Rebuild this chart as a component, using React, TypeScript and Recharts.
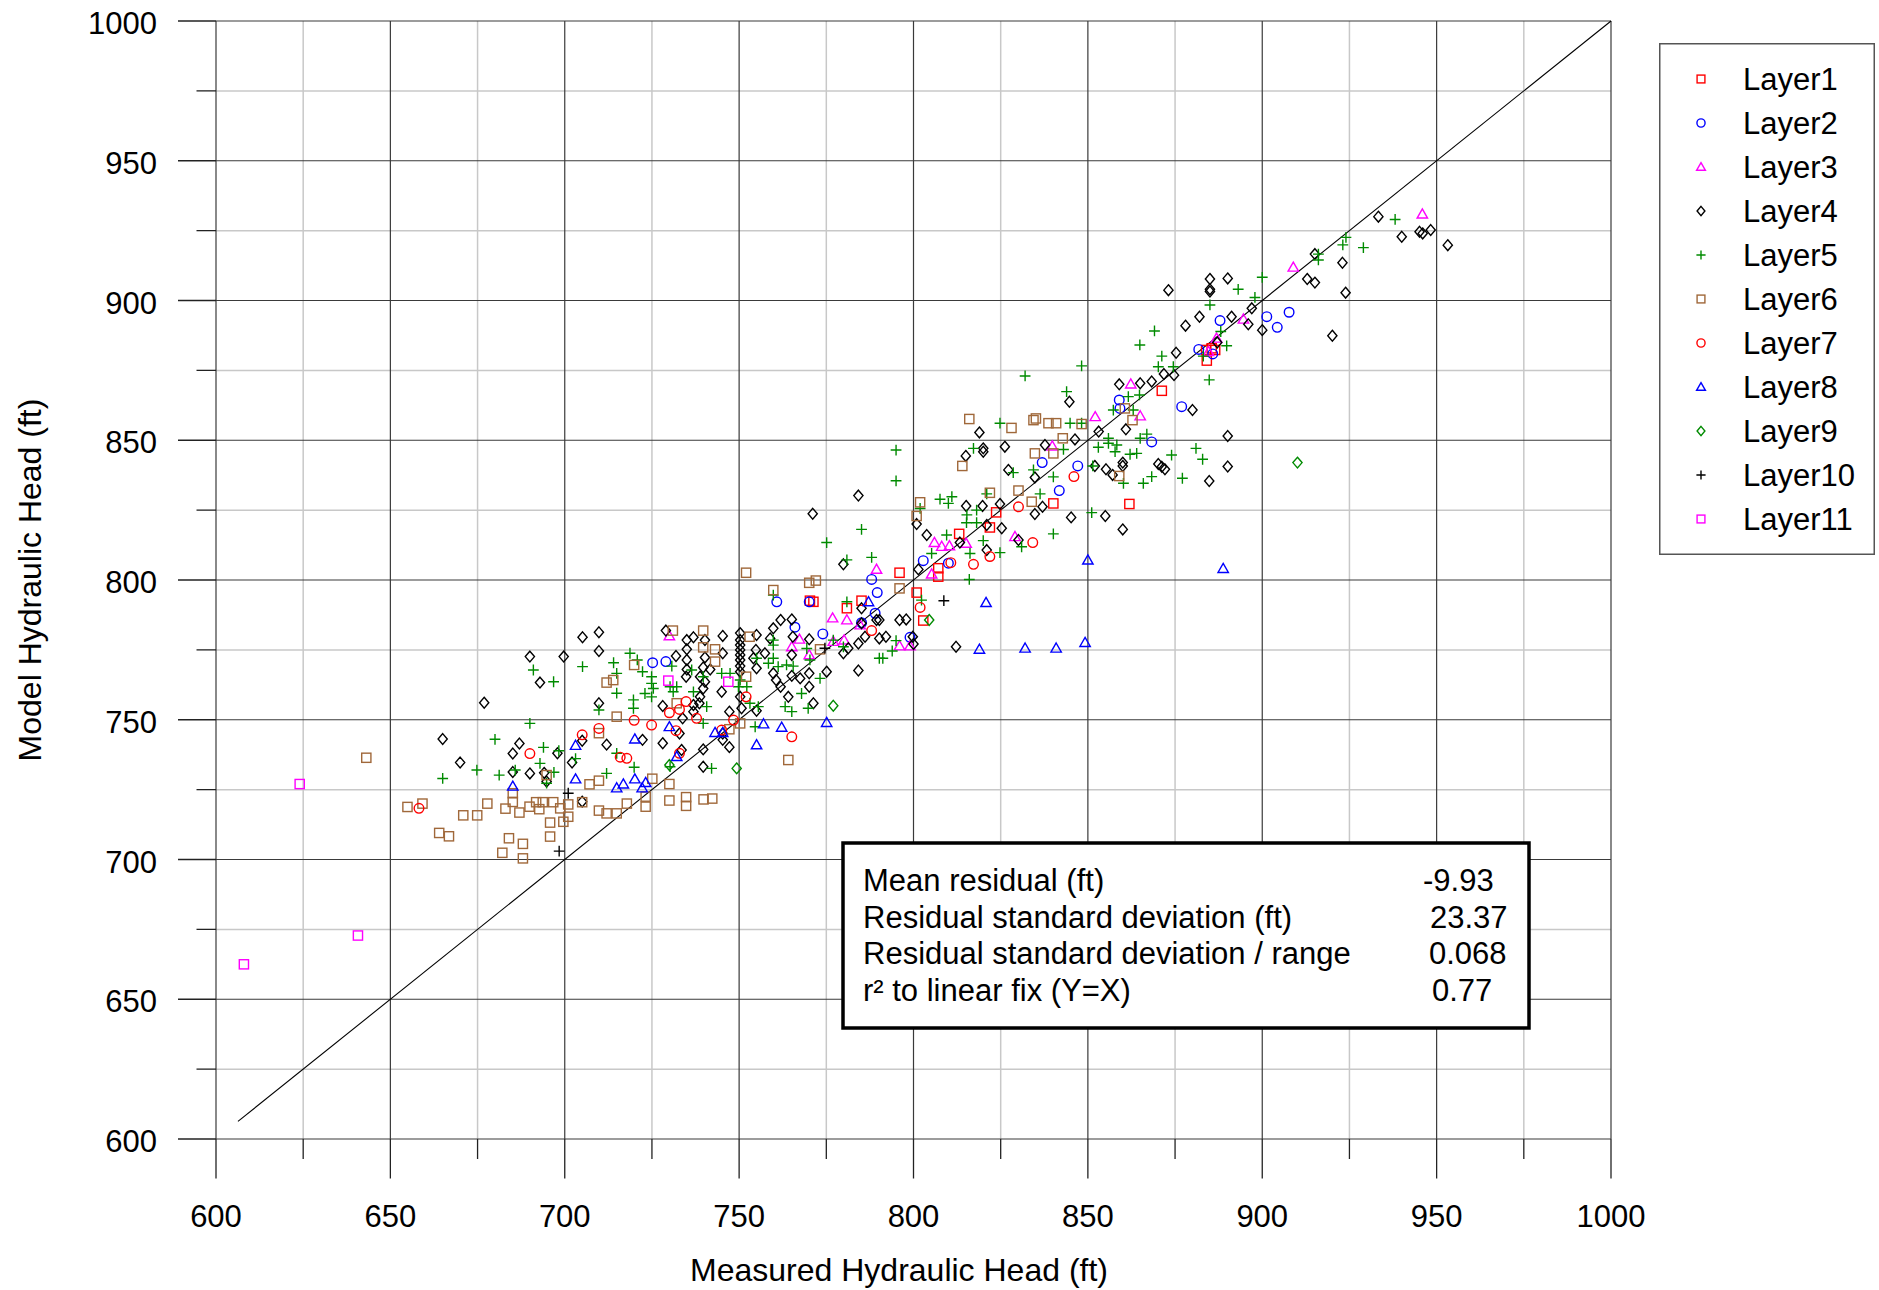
import React from 'react';
import { ScatterChart, Scatter, XAxis, YAxis, CartesianGrid, ReferenceLine, Legend } from 'recharts';

const layer1: [number, number][] = [
  [770.3, 792.6], [771.3, 792.2], [785.1, 792.6], [780.9, 789.9], [796.0, 802.6], [800.9, 795.5],
  [802.8, 785.5], [807.1, 804.2], [807.1, 801.2], [813.1, 816.5], [821.9, 818.8], [823.7, 824.2],
  [840.1, 827.4], [861.9, 827.2], [871.2, 867.7], [883.9, 882.3], [885.5, 882.9], [886.5, 882.3],
  [884.1, 878.5],
];

const layer2: [number, number][] = [
  [760.8, 792.2], [770.1, 792.2], [766.0, 783.1], [774.0, 780.7], [725.2, 770.4], [729.0, 770.8],
  [788.0, 800.2], [789.6, 795.5], [789.0, 788.1], [785.1, 784.7], [802.8, 806.9], [810.0, 806.0],
  [799.0, 779.5], [836.9, 842.0], [841.8, 832.0], [876.9, 862.0], [859.0, 864.4], [859.2, 861.4],
  [868.3, 849.4], [847.1, 840.8], [901.3, 894.2], [907.7, 895.8], [904.3, 890.4], [887.9, 892.8],
  [881.8, 882.5], [885.8, 880.9],
];

const layer3: [number, number][] = [
  [730.0, 780.0], [776.8, 786.4], [780.9, 785.7], [789.4, 803.8], [767.3, 778.8], [765.1, 776.1],
  [770.1, 773.2], [777.0, 778.0], [780.1, 778.5], [784.7, 783.9], [806.0, 813.4], [808.1, 812.0],
  [810.3, 812.2], [815.1, 813.1], [829.1, 815.5], [805.2, 802.1], [796.0, 776.4], [799.0, 776.4],
  [839.8, 847.9], [862.3, 870.1], [865.0, 858.7], [852.1, 858.4], [945.9, 930.9], [908.9, 911.9],
  [894.6, 893.3], [886.9, 886.5], [884.6, 881.7],
];

const layer4: [number, number][] = [
  [705.1, 779.5], [709.8, 781.3], [709.8, 774.6], [690.0, 772.6], [699.7, 772.6], [692.9, 763.3],
  [676.9, 756.1], [709.8, 755.9], [665.0, 743.1], [687.0, 741.5], [685.1, 737.9], [670.0, 734.7],
  [685.1, 731.3], [690.0, 730.8], [697.9, 738.0], [702.1, 734.7], [705.0, 742.5], [712.0, 741.1],
  [694.8, 727.9], [705.0, 720.7], [694.1, 731.0],
  [779.9, 805.6], [729.0, 781.9], [735.0, 778.5], [736.9, 779.5], [740.2, 778.5], [735.0, 775.2],
  [740.2, 772.3], [735.0, 771.4], [735.0, 768.0], [731.9, 772.8], [739.7, 768.7], [741.7, 768.0],
  [738.8, 765.4], [734.8, 765.4], [740.2, 763.6], [739.7, 761.2], [738.8, 758.2], [738.6, 755.9],
  [736.9, 755.3], [736.9, 752.9], [728.1, 754.9], [733.8, 750.5], [722.3, 742.8], [728.1, 741.6],
  [732.9, 745.1], [733.5, 739.2], [739.7, 739.4], [745.3, 745.1], [745.3, 742.8], [747.2, 740.2],
  [747.2, 752.9], [745.0, 760.0], [745.3, 780.0], [745.3, 773.8], [750.3, 781.0], [750.3, 778.5],
  [750.3, 776.7], [750.3, 775.0], [750.3, 773.2], [750.3, 771.4], [750.3, 769.2], [750.3, 767.2],
  [750.3, 758.2], [750.7, 754.1], [755.0, 780.3], [754.8, 775.0], [754.1, 772.0], [755.0, 768.4],
  [757.4, 773.8], [758.9, 779.1], [759.8, 782.7], [761.9, 785.7], [765.1, 785.9], [765.4, 779.7],
  [765.1, 773.2], [759.8, 766.6], [760.6, 764.2], [761.9, 761.8], [764.1, 758.2], [765.1, 765.7],
  [767.5, 764.8], [770.1, 761.8], [770.1, 766.6], [771.3, 755.9], [770.1, 778.8], [775.1, 767.2],
  [779.9, 773.8], [781.3, 775.6], [784.2, 777.3], [784.2, 767.6], [785.1, 789.9], [785.1, 784.5],
  [786.1, 779.7], [789.4, 785.7], [755.0, 753.2], [739.7, 733.2],
  [800.9, 820.0], [803.8, 816.1], [813.3, 813.4], [821.0, 819.7], [825.3, 818.5], [821.0, 810.7],
  [830.1, 814.3], [801.4, 803.8], [796.0, 785.7], [797.9, 785.9], [800.0, 777.1], [799.8, 779.7],
  [812.2, 776.1], [792.1, 779.7], [790.2, 785.7], [790.2, 779.1],
  [818.9, 852.8], [820.0, 847.1], [820.0, 845.9], [826.2, 847.7], [815.0, 844.4], [827.2, 839.4],
  [834.8, 836.7], [784.2, 830.2], [771.1, 823.7], [815.1, 826.5], [819.8, 826.5], [824.8, 827.2],
  [834.8, 823.6], [837.0, 826.2], [837.7, 848.3],
  [844.7, 863.8], [859.0, 870.0], [865.0, 870.4], [868.3, 871.0], [871.8, 873.7], [874.7, 873.3],
  [880.0, 860.8], [853.1, 853.1], [860.9, 853.9], [890.1, 851.5], [890.1, 840.6], [884.8, 835.4],
  [870.2, 841.5], [871.2, 840.5], [872.1, 839.6], [860.0, 842.0], [860.0, 840.8], [855.2, 839.6],
  [857.1, 837.6], [852.0, 840.8], [855.0, 822.9], [860.0, 818.1], [845.2, 822.4], [846.3, 850.3],
  [933.3, 930.0], [940.0, 922.8], [945.1, 924.6], [946.0, 924.0], [948.3, 925.2], [953.2, 919.8],
  [915.1, 916.6], [923.0, 913.5], [912.9, 907.7], [915.1, 906.4], [923.9, 902.8], [897.0, 897.2],
  [885.0, 907.7], [890.1, 907.9], [885.0, 904.0], [885.0, 903.2], [873.1, 903.7], [900.0, 889.4],
  [896.0, 891.5], [891.2, 894.2], [882.0, 894.2], [878.0, 891.0], [887.1, 885.0], [875.3, 881.3],
  [920.1, 887.4],
];

const layer5: [number, number][] = [
  [691.0, 767.8], [696.8, 763.6], [705.1, 769.0], [714.0, 770.4], [714.9, 766.6], [714.9, 759.5],
  [718.7, 773.8], [719.7, 757.1], [719.7, 754.1], [709.8, 753.5], [690.0, 748.7], [680.0, 743.0],
  [693.9, 740.1], [698.3, 738.9], [692.9, 734.4], [696.9, 731.2], [685.8, 732.0], [681.2, 730.2],
  [674.8, 732.0], [665.0, 729.0], [694.8, 727.3], [703.1, 736.1], [712.0, 730.8], [714.9, 738.0],
  [719.9, 733.0], [720.8, 771.4],
  [775.1, 813.4], [780.9, 807.2], [788.0, 808.1], [780.9, 792.2], [759.8, 794.6], [759.8, 778.5],
  [759.8, 776.7], [759.8, 772.0], [758.4, 770.2], [761.2, 769.0], [763.6, 769.6], [765.5, 769.2],
  [769.4, 775.5], [770.3, 771.4], [773.2, 764.8], [777.0, 778.5], [779.9, 776.1], [790.2, 772.0],
  [724.9, 765.4], [724.9, 763.0], [725.4, 761.2], [723.0, 759.4], [724.9, 758.2], [730.2, 761.8],
  [731.1, 760.0], [732.1, 761.8], [730.7, 769.2], [736.4, 767.8], [736.9, 760.0], [739.7, 765.4],
  [740.7, 754.7], [739.7, 748.7], [745.0, 766.6], [747.4, 766.6], [749.8, 761.8], [750.3, 764.2],
  [752.2, 761.8], [753.1, 755.9], [755.5, 754.7], [754.6, 747.5], [763.2, 754.7], [765.1, 752.9],
  [767.9, 759.4], [769.8, 754.1], [722.3, 767.2], [730.2, 733.2], [742.1, 732.6], [755.0, 772.0],
  [809.5, 816.1], [805.2, 809.5], [816.2, 809.5], [820.0, 814.1], [824.8, 809.8], [816.0, 800.2],
  [802.3, 792.8], [840.1, 816.5], [831.0, 811.9], [795.0, 778.3], [793.9, 774.6], [791.2, 772.0],
  [815.2, 820.5], [818.1, 820.5], [785.1, 818.1],
  [832.0, 873.0], [824.8, 856.1], [817.2, 847.1], [795.0, 846.5], [795.0, 835.5], [807.6, 828.9],
  [811.0, 829.8], [810.0, 827.4], [828.6, 838.4], [821.0, 830.8], [834.4, 839.4], [840.1, 836.9],
  [836.3, 830.8], [815.3, 823.3], [818.1, 825.0], [801.9, 825.6],
  [848.2, 876.6], [843.9, 867.4], [870.2, 876.3], [874.5, 876.3], [884.8, 871.6], [861.6, 865.6],
  [864.8, 866.2], [863.0, 860.8], [857.3, 860.8], [855.9, 850.7], [855.9, 848.9], [858.3, 848.3],
  [857.8, 845.9], [853.0, 847.5], [865.0, 850.7], [866.9, 852.2], [862.1, 845.0], [864.0, 845.3],
  [874.0, 844.7], [881.0, 847.1], [882.9, 843.2], [877.1, 836.4], [868.3, 837.0], [865.9, 834.6],
  [851.4, 840.8], [860.2, 834.6], [851.1, 824.1], [848.2, 856.1], [844.9, 856.1], [843.0, 846.7],
  [938.1, 929.0], [924.0, 922.6], [923.1, 919.9], [929.0, 918.9], [916.1, 914.5], [916.1, 916.6],
  [900.0, 908.3], [893.1, 904.0], [897.9, 901.1], [885.0, 898.4], [888.1, 888.9], [869.1, 889.1],
  [864.9, 884.1], [889.8, 883.8], [883.1, 880.1], [871.2, 880.1],
];

const layer6: [number, number][] = [
  [643.1, 736.4],
  [712.0, 763.3], [713.9, 764.2], [719.9, 769.6], [714.9, 751.1], [709.8, 745.2], [694.8, 730.2],
  [654.9, 718.8], [659.2, 720.0], [677.8, 720.0], [670.9, 715.8], [674.9, 715.8], [664.0, 709.5],
  [666.8, 708.3], [683.0, 718.2], [685.1, 720.6], [685.1, 723.7], [687.0, 716.8], [689.9, 718.9],
  [691.8, 720.5], [693.7, 720.5], [692.7, 718.0], [696.7, 720.5], [698.7, 718.3], [701.0, 719.7],
  [701.0, 715.3], [699.6, 713.5], [695.8, 713.2], [695.8, 708.2], [684.0, 707.6], [688.0, 705.6],
  [682.1, 702.4], [688.0, 700.4], [707.1, 726.9], [709.8, 728.2], [709.8, 717.5], [712.0, 716.5],
  [714.9, 716.5], [717.8, 720.0], [705.0, 720.5], [723.2, 722.5], [723.2, 718.9], [725.1, 728.9],
  [730.0, 727.0], [730.0, 721.1], [734.8, 722.3], [734.8, 719.2], [739.8, 721.5], [742.3, 721.8],
  [752.0, 802.6], [759.8, 796.4], [770.1, 799.0], [772.0, 799.8], [731.0, 781.9], [739.7, 781.9],
  [739.7, 775.9], [743.1, 775.2], [743.1, 770.8], [753.0, 779.7], [752.0, 765.4], [732.1, 755.9],
  [773.2, 775.2], [750.3, 748.7], [747.2, 746.6], [764.1, 735.6], [796.0, 797.0],
  [816.0, 857.6], [828.1, 854.4], [834.4, 857.2], [835.1, 857.8], [838.7, 856.1], [840.9, 856.1],
  [814.0, 840.8], [834.8, 845.3], [840.1, 845.3], [801.9, 827.8], [800.9, 822.9], [821.9, 831.2],
  [830.1, 832.0], [833.9, 828.0],
  [860.6, 861.4], [862.8, 857.2], [848.2, 855.8], [842.8, 850.7], [859.0, 837.2],
];

const layer7: [number, number][] = [
  [690.0, 737.9], [705.0, 744.6], [709.8, 746.9], [715.9, 736.6], [717.8, 736.2], [719.9, 749.8],
  [658.2, 718.3], [788.0, 781.9], [752.0, 758.2], [734.8, 756.5], [732.9, 753.7], [730.0, 752.5],
  [737.8, 750.5], [724.9, 748.1], [731.9, 746.1], [748.4, 749.9], [745.0, 746.3], [765.1, 743.9],
  [732.9, 738.0], [801.9, 790.2], [810.7, 806.2], [817.2, 805.6], [821.9, 808.4], [834.2, 813.4],
  [830.1, 826.2], [846.0, 837.0],
];

const layer8: [number, number][] = [
  [703.1, 740.8], [720.1, 743.1], [703.1, 728.8], [685.1, 726.2], [714.9, 725.6], [716.8, 727.0],
  [720.1, 728.8], [722.2, 725.6], [723.2, 727.5], [730.0, 747.5], [743.1, 745.4], [745.3, 745.4],
  [757.0, 748.5], [762.2, 747.3], [755.0, 741.0], [775.1, 749.0], [732.1, 736.8], [787.1, 792.2],
  [820.8, 791.9], [818.9, 775.2], [832.0, 775.6], [840.9, 775.6], [849.2, 777.6], [850.0, 807.1],
  [888.8, 804.1],
];

const layer9: [number, number][] = [
  [777.0, 755.0], [749.3, 732.6], [730.0, 733.8], [804.5, 785.7], [910.1, 842.0],
];

const layer10: [number, number][] = [
  [701.0, 723.7], [698.4, 703.0], [808.7, 792.6], [774.6, 775.6],
];

const layer11: [number, number][] = [
  [608.0, 662.5], [624.0, 727.0], [640.7, 672.8], [729.7, 764.0], [746.9, 763.6],
];

const axisTicks = [600, 625, 650, 675, 700, 725, 750, 775, 800, 825, 850, 875, 900, 925, 950, 975, 1000];
const majorTicks = [600, 650, 700, 750, 800, 850, 900, 950, 1000];
const minorTicks = [625, 675, 725, 775, 825, 875, 925, 975];
const oneToOne = [606.3, 1000];

const statLabels = [
  'Mean residual (ft)',
  'Residual standard deviation (ft)',
  'Residual standard deviation / range',
  'r\u00b2 to linear fix (Y=X)',
];
const statValues = ['-9.93', '23.37', '0.068', '0.77'];

type Kind = 'square' | 'circle' | 'triangle' | 'diamond' | 'plus';

const layers: { name: string; data: [number, number][]; color: string; kind: Kind }[] = [
  { name: 'Layer1', data: layer1, color: '#ff0000', kind: 'square' },
  { name: 'Layer2', data: layer2, color: '#0000ff', kind: 'circle' },
  { name: 'Layer3', data: layer3, color: '#ff00ff', kind: 'triangle' },
  { name: 'Layer4', data: layer4, color: '#000000', kind: 'diamond' },
  { name: 'Layer5', data: layer5, color: '#008b00', kind: 'plus' },
  { name: 'Layer6', data: layer6, color: '#a0683a', kind: 'square' },
  { name: 'Layer7', data: layer7, color: '#ff0000', kind: 'circle' },
  { name: 'Layer8', data: layer8, color: '#0000ff', kind: 'triangle' },
  { name: 'Layer9', data: layer9, color: '#008b00', kind: 'diamond' },
  { name: 'Layer10', data: layer10, color: '#000000', kind: 'plus' },
  { name: 'Layer11', data: layer11, color: '#ff00ff', kind: 'square' },
];

const FONT = '"Liberation Sans", Arial, Helvetica, sans-serif';

function marker(kind: Kind, cx: number, cy: number, color: string, k = 1) {
  const sw = 1.4;
  if (kind === 'square') {
    const h = 4.6 * k;
    return <rect x={cx - h} y={cy - h} width={2 * h} height={2 * h} fill="none" stroke={color} strokeWidth={sw} />;
  }
  if (kind === 'circle') {
    return <circle cx={cx} cy={cy} r={4.8 * k} fill="none" stroke={color} strokeWidth={sw} />;
  }
  if (kind === 'triangle') {
    const h = 5.2 * k;
    return (
      <path
        d={`M${cx},${cy - h} L${cx + h},${cy + h * 0.75} L${cx - h},${cy + h * 0.75} Z`}
        fill="none"
        stroke={color}
        strokeWidth={sw}
      />
    );
  }
  if (kind === 'diamond') {
    const w = 4.6 * k;
    const h = 5.4 * k;
    return (
      <path
        d={`M${cx},${cy - h} L${cx + w},${cy} L${cx},${cy + h} L${cx - w},${cy} Z`}
        fill="none"
        stroke={color}
        strokeWidth={sw}
      />
    );
  }
  const h = 5.4 * k;
  return <path d={`M${cx - h},${cy} H${cx + h} M${cx},${cy - h} V${cy + h}`} stroke={color} strokeWidth={sw} />;
}

const XTick = (props: any) => {
  const { x, y, payload } = props;
  const major = payload.value % 50 === 0;
  return (
    <g>
      <line x1={x} x2={x} y1={y} y2={y + (major ? 39.5 : 20)} stroke="#222" strokeWidth={1.3} />
      {major && (
        <text x={x} y={y + 88} textAnchor="middle" fontSize={31} fontFamily={FONT} fill="#000">
          {payload.value}
        </text>
      )}
    </g>
  );
};

const YTick = (props: any) => {
  const { x, y, payload } = props;
  const major = payload.value % 50 === 0;
  return (
    <g>
      <line x1={x - (major ? 38 : 19.5)} x2={x} y1={y} y2={y} stroke="#222" strokeWidth={1.3} />
      {major && (
        <text x={x - 59} y={y + 13} textAnchor="end" fontSize={31} fontFamily={FONT} fill="#000">
          {payload.value}
        </text>
      )}
    </g>
  );
};

const renderLegend = () => (
  <svg width={216} height={512} style={{ display: 'block' }}>
    <rect x={0.75} y={0.75} width={214.5} height={510.5} fill="#fff" stroke="#555" strokeWidth={1.5} />
    {layers.map((l, i) => (
      <g key={l.name}>
        {marker(l.kind, 42, 36 + i * 44, l.color, 0.85)}
        <text x={84} y={47 + i * 44} fontSize={31} fontFamily={FONT} fill="#000">
          {l.name}
        </text>
      </g>
    ))}
  </svg>
);

export default function App() {
  return (
    <div style={{ position: 'absolute', left: 0, top: 0, width: 1879, height: 1290, background: '#fff' }}>
      <ScatterChart width={1879} height={1290} margin={{ top: 21, right: 268, bottom: 111, left: 176 }}>
        <CartesianGrid verticalValues={minorTicks} horizontalValues={minorTicks} stroke="#c8c8c8" strokeWidth={1.5} />
        <CartesianGrid verticalValues={majorTicks} horizontalValues={majorTicks} stroke="#3a3a3a" strokeWidth={1.2} />
        <XAxis
          type="number"
          dataKey="x"
          domain={[600, 1000]}
          ticks={axisTicks}
          interval={0}
          height={40}
          tickSize={0}
          tickMargin={0}
          axisLine={false}
          tickLine={false}
          tick={XTick}
          allowDataOverflow
        />
        <YAxis
          type="number"
          dataKey="y"
          domain={[600, 1000]}
          ticks={axisTicks}
          interval={0}
          width={40}
          tickSize={0}
          tickMargin={0}
          axisLine={false}
          tickLine={false}
          tick={YTick}
          allowDataOverflow
        />
        <ReferenceLine
          segment={[{ x: oneToOne[0], y: oneToOne[0] }, { x: oneToOne[1], y: oneToOne[1] }]}
          stroke="#000"
          strokeWidth={1.1}
          ifOverflow="visible"
        />
        {layers.map((l) => (
          <Scatter
            key={l.name}
            name={l.name}
            data={l.data.map(([x, y]) => ({ x, y }))}
            isAnimationActive={false}
            shape={(p: any) => marker(l.kind, p.cx, p.cy, l.color)}
          />
        ))}
        <Legend
          layout="vertical"
          align="center"
          verticalAlign="middle"
          content={renderLegend}
          wrapperStyle={{ left: 1659, top: 43, width: 216, height: 512 }}
        />
      </ScatterChart>
      <svg
        width={1879}
        height={1290}
        style={{ position: 'absolute', left: 0, top: 0, pointerEvents: 'none' }}
        fontFamily={FONT}
      >
        <text x={899} y={1281} textAnchor="middle" fontSize={32} fill="#000">
          Measured Hydraulic Head (ft)
        </text>
        <text x={41} y={580} textAnchor="middle" fontSize={32} fill="#000" transform="rotate(-90 41 580)">
          Model Hydraulic Head (ft)
        </text>
        <rect x={843} y={843} width={686} height={185} fill="#fff" stroke="#000" strokeWidth={3.5} />
        {statLabels.map((s, i) => (
          <text key={s} x={863} y={891 + i * 36.7} fontSize={31} fill="#000">
            {s}
          </text>
        ))}
        {statValues.map((v, i) => (
          <text key={v} x={[1423, 1430, 1429, 1432][i]} y={891 + i * 36.7} fontSize={31} fill="#000">
            {v}
          </text>
        ))}
      </svg>
    </div>
  );
}
